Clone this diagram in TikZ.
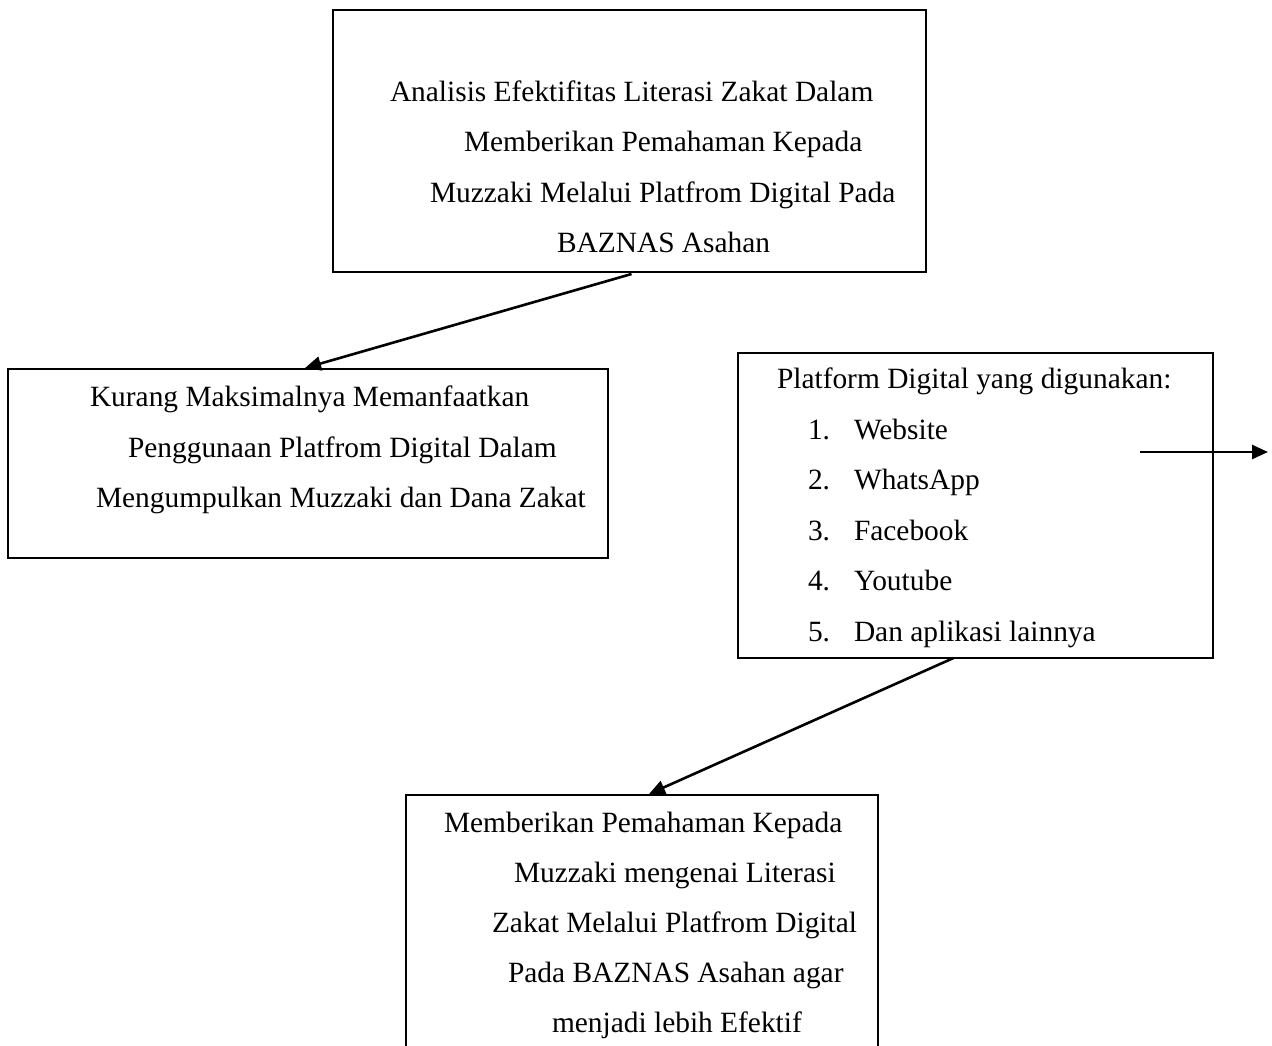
\documentclass[tikz,border=0pt]{standalone}
\usepackage{fontspec}
\setmainfont{Liberation Serif}
\usetikzlibrary{arrows.meta,calc}
\begin{document}
\begin{tikzpicture}[x=1pt,y=-1pt,
  box/.style={draw=black,line width=1.8pt,rectangle,inner sep=0pt,outer sep=0pt,anchor=north west},
  txt/.style={inner sep=0pt,outer sep=0pt,anchor=base west,font=\fontsize{29.4}{35}\selectfont},
  conn/.style={line width=2.6pt,-{Triangle[length=16pt,width=14pt]}}]
\useasboundingbox[fill=white] (0,0) rectangle (1272,1045);
% boxes
\node[box,minimum width=593pt,minimum height=262pt] (b1) at (333,10) {};
\node[box,minimum width=600pt,minimum height=189pt] (b2) at (8,369) {};
\node[box,minimum width=475pt,minimum height=305pt] (b3) at (738,353) {};
\node[box,minimum width=472pt,minimum height=262pt] (b4) at (406,795) {};
% box 1 text
\node[txt] (t11) at (390,101) {Analisis Efektifitas Literasi Zakat Dalam};
\node[txt] (t12) at (464,151) {Memberikan Pemahaman Kepada};
\node[txt] (t13) at (430,202) {Muzzaki Melalui Platfrom Digital Pada};
\node[txt] (t14) at (557,252) {BAZNAS Asahan};
% box 2 text
\node[txt] (t21) at (90,406) {Kurang Maksimalnya Memanfaatkan};
\node[txt] (t22) at (128,457) {Penggunaan Platfrom Digital Dalam};
\node[txt] (t23) at (96,507) {Mengumpulkan Muzzaki dan Dana Zakat};
% box 3 text
\node[txt] (t30) at (777,388) {Platform Digital yang digunakan:};
\node[txt] (n1) at (808,439) {1.};
\node[txt] (i1) at (854,439) {Website};
\node[txt] (n2) at (808,489) {2.};
\node[txt] (i2) at (854,489) {WhatsApp};
\node[txt] (n3) at (808,540) {3.};
\node[txt] (i3) at (854,540) {Facebook};
\node[txt] (n4) at (808,590) {4.};
\node[txt] (i4) at (854,590) {Youtube};
\node[txt] (n5) at (808,641) {5.};
\node[txt] (i5) at (854,641) {Dan aplikasi lainnya};
% box 4 text
\node[txt] (t41) at (444,832) {Memberikan Pemahaman Kepada};
\node[txt] (t42) at (514,882) {Muzzaki mengenai Literasi};
\node[txt] (t43) at (492,932) {Zakat Melalui Platfrom Digital};
\node[txt] (t44) at (508,982) {Pada BAZNAS Asahan agar};
\node[txt] (t45) at (552,1032) {menjadi lebih Efektif};
% connectors
\coordinate (s1) at ($(b1.south)+(2,2)$);
\coordinate (e1) at ($(b2.north)+(-3,-1)$);
\draw[conn] (s1) -- (e1);
\coordinate (s2) at ($(b3.south)+(-22,0)$);
\coordinate (e2) at ($(b4.north)+(7,-1)$);
\draw[conn] (s2) -- (e2);
\coordinate (s3) at (1140,452);
\coordinate (e3) at (1268,452);
\draw[conn] (s3) -- (e3);
\end{tikzpicture}
\end{document}
